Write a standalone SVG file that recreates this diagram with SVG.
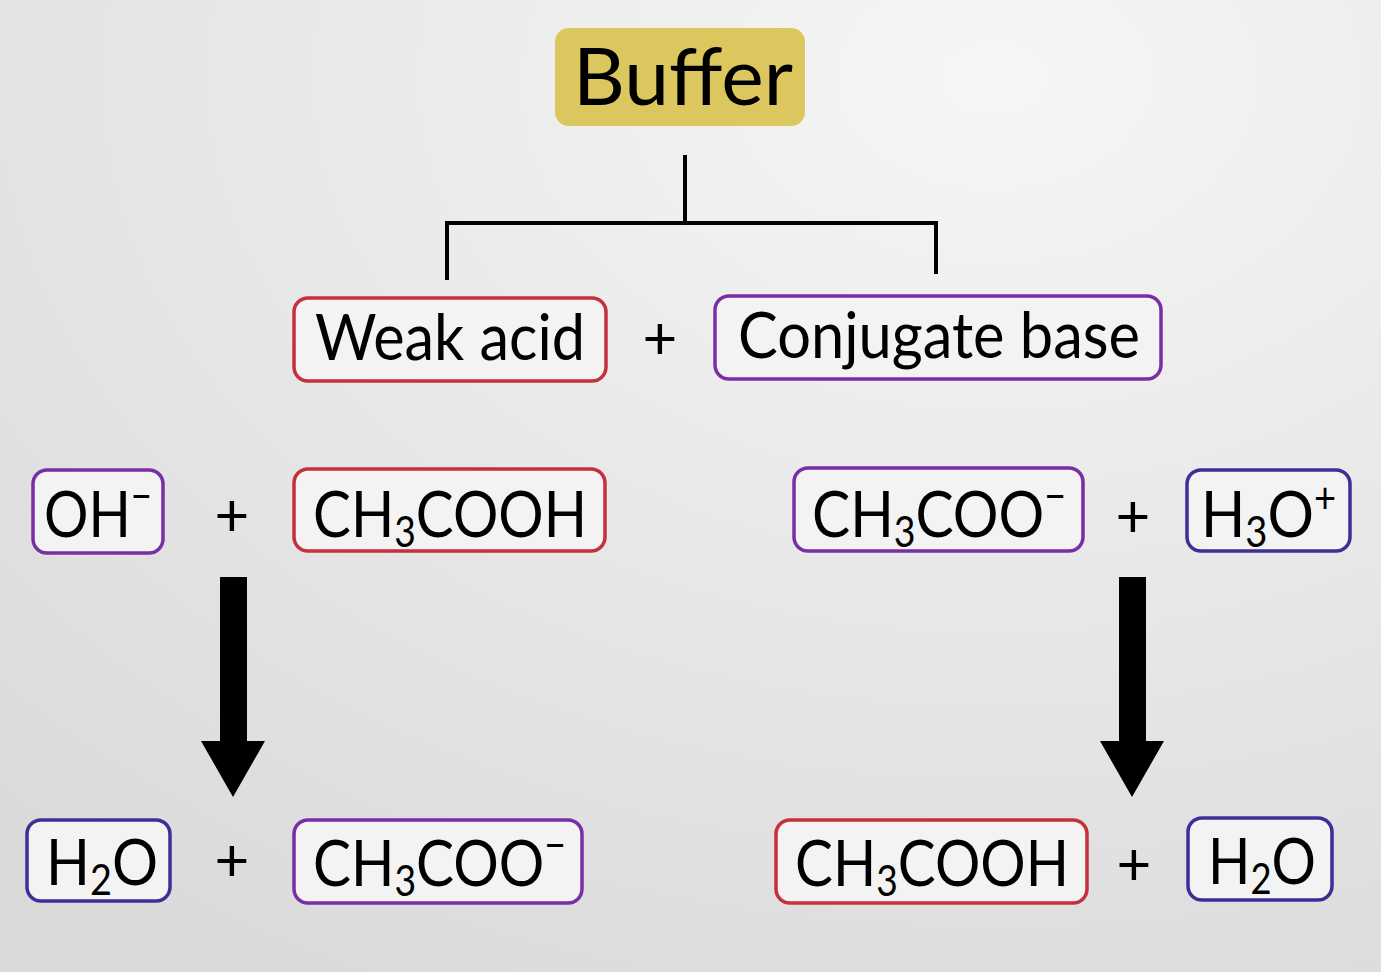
<svg xmlns="http://www.w3.org/2000/svg" width="1381" height="972" viewBox="0 0 1381 972">
<defs>
<radialGradient id="bg" cx="0.72" cy="0.08" r="1.1">
<stop offset="0" stop-color="#f6f6f6"/>
<stop offset="1" stop-color="#d9d9d9"/>
</radialGradient>
</defs>
<style>
.box{fill:#f3f3f3;stroke-width:3.5}
.red{stroke:#c4303c}
.pur{stroke:#7a2ea6}
.blu{stroke:#3b2f98}
.t{font-family:Lato,"Noto Sans",sans-serif;fill:#000}
.lbl{font-size:64px}
.plus{font-size:60px;text-anchor:middle}
.sub{font-size:42px}
.sup{font-size:42px}
.con{fill:none;stroke:#000;stroke-width:4}
</style>
<rect width="1381" height="972" fill="url(#bg)"/>
<g id="connectors">
<path class="con" d="M685 155V222M447 280V223H936V274"/>
<path d="M220 577H247V741H265L233 797L201 741H220Z" fill="#000"/>
<path d="M1119 577H1146V741H1164L1132 797L1100 741H1119Z" fill="#000"/>
</g>
<g id="buffer">
<rect x="555" y="28" width="250" height="98" rx="14" fill="#dcc75f"/>
<text class="t" x="573" y="105" font-size="80" textLength="220" lengthAdjust="spacingAndGlyphs">Buffer</text>
</g>
<g id="weak-acid">
<rect class="box red" x="294" y="298" width="312" height="83" rx="14"/>
<text class="t lbl" x="315" y="360" textLength="270" lengthAdjust="spacingAndGlyphs">Weak acid</text>
</g>
<text class="t plus" x="660" y="359">+</text>
<g id="conjugate-base">
<rect class="box pur" x="715" y="296" width="446" height="83" rx="14"/>
<text class="t lbl" x="738" y="358" textLength="402" lengthAdjust="spacingAndGlyphs">Conjugate base</text>
</g>
<g id="oh">
<rect class="box pur" x="33" y="470" width="130" height="83" rx="14"/>
<text class="t lbl" x="44" y="537" textLength="108" lengthAdjust="spacingAndGlyphs">OH<tspan class="sup" dy="-26">−</tspan></text>
</g>
<text class="t plus" x="232" y="536">+</text>
<g id="ch3cooh-1">
<rect class="box red" x="294" y="469" width="311" height="82" rx="14"/>
<text class="t lbl" x="313" y="537" textLength="274" lengthAdjust="spacingAndGlyphs">CH<tspan class="sub" dy="10">3</tspan><tspan dy="-10">COOH</tspan></text>
</g>
<g id="ch3coo-1">
<rect class="box pur" x="794" y="468" width="289" height="83" rx="14"/>
<text class="t lbl" x="812" y="537" textLength="254" lengthAdjust="spacingAndGlyphs">CH<tspan class="sub" dy="10">3</tspan><tspan dy="-10">COO</tspan><tspan class="sup" dy="-26">−</tspan></text>
</g>
<text class="t plus" x="1133" y="537">+</text>
<g id="h3o">
<rect class="box blu" x="1187" y="470" width="163" height="81" rx="14"/>
<text class="t lbl" x="1201" y="537" textLength="135" lengthAdjust="spacingAndGlyphs">H<tspan class="sub" dy="10">3</tspan><tspan dy="-10">O</tspan><tspan class="sup" dy="-24">+</tspan></text>
</g>
<g id="h2o-1">
<rect class="box blu" x="27" y="820" width="143" height="81" rx="14"/>
<text class="t lbl" x="46" y="885" textLength="112" lengthAdjust="spacingAndGlyphs">H<tspan class="sub" dy="10">2</tspan><tspan dy="-10">O</tspan></text>
</g>
<text class="t plus" x="232" y="881">+</text>
<g id="ch3coo-2">
<rect class="box pur" x="294" y="820" width="288" height="83" rx="14"/>
<text class="t lbl" x="313" y="886" textLength="253" lengthAdjust="spacingAndGlyphs">CH<tspan class="sub" dy="10">3</tspan><tspan dy="-10">COO</tspan><tspan class="sup" dy="-26">−</tspan></text>
</g>
<g id="ch3cooh-2">
<rect class="box red" x="776" y="820" width="311" height="83" rx="14"/>
<text class="t lbl" x="795" y="886" textLength="274" lengthAdjust="spacingAndGlyphs">CH<tspan class="sub" dy="10">3</tspan><tspan dy="-10">COOH</tspan></text>
</g>
<text class="t plus" x="1134" y="885">+</text>
<g id="h2o-2">
<rect class="box blu" x="1188" y="818" width="144" height="82" rx="14"/>
<text class="t lbl" x="1208" y="884" textLength="108" lengthAdjust="spacingAndGlyphs">H<tspan class="sub" dy="10">2</tspan><tspan dy="-10">O</tspan></text>
</g>
</svg>
